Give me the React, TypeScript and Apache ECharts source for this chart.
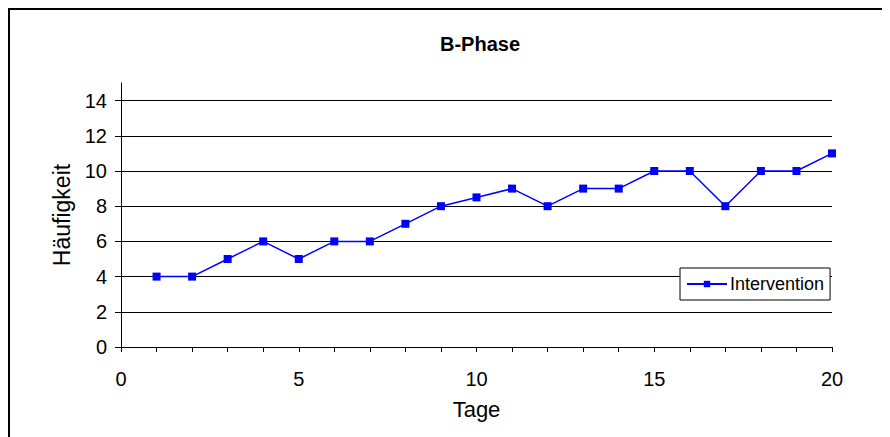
import React, { useEffect, useRef } from "react";
import * as echarts from "echarts";

const days = [1, 2, 3, 4, 5, 6, 7, 8, 9, 10, 11, 12, 13, 14, 15, 16, 17, 18, 19, 20];
const values = [4, 4, 5, 6, 5, 6, 6, 7, 8, 8.5, 9, 8, 9, 9, 10, 10, 8, 10, 10, 11];
const yTicks = [0, 2, 4, 6, 8, 10, 12, 14];
const xLabels = [0, 5, 10, 15, 20];
const seriesName = "Intervention";

const FONT = "Liberation Sans, Arial, sans-serif";

export default function App() {
  const ref = useRef<HTMLDivElement>(null);
  useEffect(() => {
    if (!ref.current) return;
    const chart = echarts.init(ref.current, undefined, { renderer: "svg" });
    chart.setOption({
      animation: false,
      backgroundColor: "#fff",
      title: {
        text: "B-Phase",
        left: 465,
        top: 19,
        textAlign: "center",
        textStyle: { fontFamily: FONT, fontSize: 20, fontWeight: "bold", color: "#000" },
      },
      legend: {
        data: [seriesName],
        left: 670,
        top: 258,
        orient: "vertical",
        padding: [7, 6, 7, 6],
        itemWidth: 40,
        itemHeight: 8,
        itemGap: 0,
        borderColor: "#000",
        borderWidth: 1,
        backgroundColor: "#fff",
        textStyle: { fontFamily: FONT, fontSize: 18, color: "#000", padding: [0, 0, 0, -2] },
      },
      grid: { left: 111, top: 73, width: 711, height: 264, containLabel: false },
      xAxis: {
        type: "value",
        min: 0,
        max: 20,
        interval: 1,
        name: "Tage",
        nameLocation: "middle",
        nameGap: 51,
        nameTextStyle: { fontFamily: FONT, fontSize: 22, color: "#000" },
        axisLine: { show: true, onZero: false, lineStyle: { color: "#000", width: 1 } },
        axisTick: { show: true, inside: false, length: 5, lineStyle: { color: "#000" } },
        axisLabel: {
          margin: 22,
          fontFamily: FONT,
          fontSize: 20,
          color: "#000",
          formatter: (v: number) => (xLabels.includes(v) ? String(v) : ""),
        },
        splitLine: { show: false },
      },
      yAxis: {
        type: "value",
        min: 0,
        max: 15,
        interval: 2,
        name: "Häufigkeit",
        nameLocation: "middle",
        nameGap: 46,
        nameTextStyle: { fontFamily: FONT, fontSize: 23, color: "#000" },
        axisLine: { show: true, lineStyle: { color: "#000", width: 1 } },
        axisTick: { show: true, inside: false, length: 6, customValues: yTicks, lineStyle: { color: "#000" } },
        axisLabel: {
          margin: 14,
          fontFamily: FONT,
          fontSize: 20,
          color: "#000",
          customValues: yTicks,
        },
        splitLine: { show: true, lineStyle: { color: "#000", width: 1 } },
      },
      series: [
        {
          name: seriesName,
          type: "line",
          data: days.map((d, i) => [d, values[i]]),
          symbol: "rect",
          symbolSize: 8,
          itemStyle: { color: "#0000ff" },
          lineStyle: { color: "#0000ff", width: 1.5 },
        },
      ],
    });
    return () => chart.dispose();
  }, []);
  return (
    <div
      style={{
        width: 876,
        height: 429,
        boxSizing: "border-box",
        borderTop: "2px solid #000",
        borderLeft: "2px solid #000",
        borderRight: "2px solid #000",
        background: "#fff",
      }}
    >
      <div ref={ref} style={{ width: 872, height: 427 }} />
    </div>
  );
}
